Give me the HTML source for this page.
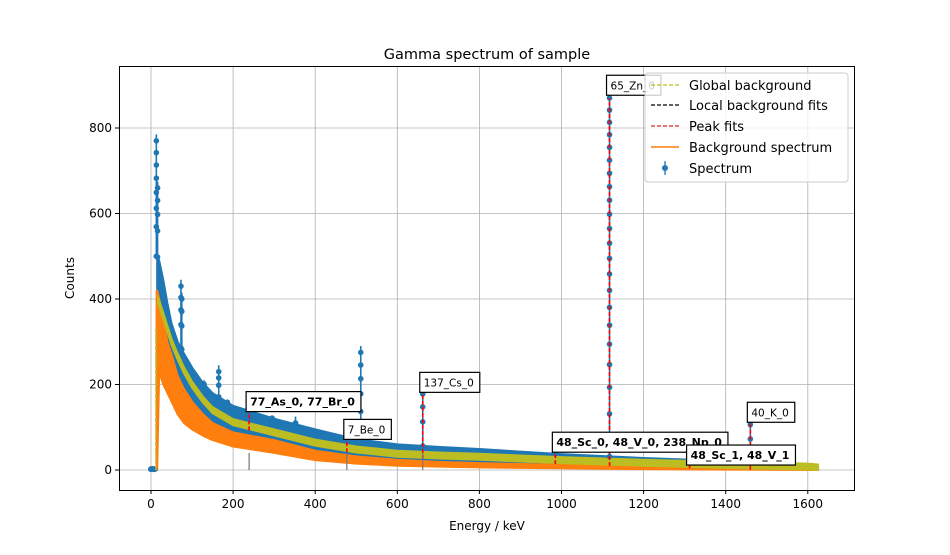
<!DOCTYPE html>
<html><head><meta charset="utf-8"><style>
body{margin:0;background:#fff;font-family:"Liberation Sans","DejaVu Sans",sans-serif;}
svg text{font-family:"DejaVu Sans","Liberation Sans",sans-serif;}
</style></head><body>
<svg id="chart" width="950" height="550" xmlns="http://www.w3.org/2000/svg">
<rect width="950" height="550" fill="#fff"/>
<g id="grid"></g>
<g id="marks"></g>
<rect x="119.5" y="66.5" width="735" height="424" fill="none" stroke="#000" stroke-width="1"/>
<g id="axes"></g>
<text x="487" y="59" font-size="14.5" text-anchor="middle">Gamma spectrum of sample</text>
<text x="487" y="530" font-size="12" text-anchor="middle">Energy / keV</text>
<text transform="translate(74,278) rotate(-90)" font-size="12" text-anchor="middle">Counts</text>
<g id="annots"></g>
<g>
<rect x="645" y="73" width="203" height="109" rx="3" fill="#fff" fill-opacity="0.8" stroke="#ccc"/>
<line x1="651" y1="85" x2="679" y2="85" stroke="#bcbd22" stroke-width="1.3" stroke-dasharray="4,2"/>
<text x="689" y="90" font-size="13">Global background</text>
<line x1="651" y1="105" x2="679" y2="105" stroke="#000" stroke-width="1.3" stroke-dasharray="4,2"/>
<text x="689" y="110" font-size="13">Local background fits</text>
<line x1="651" y1="126" x2="679" y2="126" stroke="#d62728" stroke-width="1.3" stroke-dasharray="4,2"/>
<text x="689" y="131" font-size="13">Peak fits</text>
<line x1="651" y1="147" x2="679" y2="147" stroke="#ff7f0e" stroke-width="1.6"/>
<text x="689" y="152" font-size="13">Background spectrum</text>
<line x1="665" y1="161" x2="665" y2="175" stroke="#1f77b4" stroke-width="1.3"/>
<circle cx="665" cy="168" r="3" fill="#1f77b4"/>
<text x="689" y="173" font-size="13">Spectrum</text>
</g>
</svg>
<script>
const bandE      = [15,20,30,40,50,65,80,100,127,150,200,300,400,500,600,700,800,900,1000,1200,1400,1600,1625];
const blueTop    = [500,490,444,390,343,300,273,240,203,180,150,120,95,72,60,54,49,43,37,28,21,13,8];
const blueBot    = [300,300,280,250,230,200,180,150,130,110,88,68,46,32,24,20,17,14,11,7,4,1,0];
const orangeTop  = [420,400,350,300,270,220,190,160,130,110,88,70,45,32,24,19,16,14,12,8,5,3,2];
const orangeBot  = [0,230,200,180,160,130,110,95,80,70,55,40,23,15,10,8,6,5,4,2,1,0,0];
const yellowMid  = [400,390,360,330,300,265,234,200,164,140,112,88,64,48,38,34,31,27,23,17,12,8,6];
const peakE      = [13,16,73,75,129,165,186,239,295,352,477,511,662,985,1117,1312,1460];
const peakH      = [770,660,430,400,195,230,150,160,110,110,95,275,205,65,870,35,135];
const fitE       = [239,477,662,985,1117,1312,1460];
const fitH       = [150,80,200,62,870,32,135];
const xTicks     = [0,200,400,600,800,1000,1200,1400,1600];
const yTicks     = [0,200,400,600,800];
const annText    = ["77_As_0, 77_Br_0","7_Be_0","137_Cs_0","65_Zn_0","48_Sc_0, 48_V_0, 238_Np_0","48_Sc_1, 48_V_1","40_K_0"];
const annE       = [239,477,662,1117,985,1312,1460];
const annC       = [160,95,205,900,65,35,135];
const annBold    = [1,0,0,0,1,1,0];

const X = e => 151 + e*0.4105;
const Y = c => 470 - c*0.4275;
const NS='http://www.w3.org/2000/svg';
function mk(tag, parent, attrs){const el=document.createElementNS(NS,tag);for(const k in attrs)el.setAttribute(k,attrs[k]);parent.appendChild(el);return el;}
function interp(arr,e){
  if(e<=bandE[0])return arr[0];
  for(let i=1;i<bandE.length;i++){if(e<=bandE[i]){const t=(e-bandE[i-1])/(bandE[i]-bandE[i-1]);return arr[i-1]+t*(arr[i]-arr[i-1]);}}
  return arr[arr.length-1];
}
const grid=document.getElementById('grid'), axes=document.getElementById('axes'), marks=document.getElementById('marks'), ann=document.getElementById('annots');

xTicks.forEach(t=>{
  const g=mk('line',grid,{x1:X(t),x2:X(t),y1:66,y2:490,stroke:'#b0b0b0','stroke-width':0.8});
  
  
  mk('line',axes,{x1:X(t),x2:X(t),y1:490,y2:494,stroke:'#000'});
  const tx=mk('text',axes,{x:X(t),y:508,'font-size':12,'text-anchor':'middle'});
  tx.textContent=t;
  
  
});
yTicks.forEach(t=>{
  const g=mk('line',grid,{x1:119,x2:855,y1:Y(t),y2:Y(t),stroke:'#b0b0b0','stroke-width':0.8});
  
  
  mk('line',axes,{x1:115,x2:119,y1:Y(t),y2:Y(t),stroke:'#000'});
  const tx=mk('text',axes,{x:112,y:Y(t)+4,'font-size':12,'text-anchor':'end'});
  tx.textContent=t;
  
  
});

function band(top,bot,color,name){
  let d='M'+bandE.map((e,i)=>X(e)+','+Y(top[i])).join('L');
  d+='L'+bandE.slice().reverse().map((e,j)=>{const i=bandE.length-1-j;return X(e)+','+Y(bot[i]);}).join('L')+'Z';
  const p=mk('path',marks,{d:d,fill:color,stroke:color,'stroke-width':2,'stroke-linejoin':'round'});
  
  
}
band(blueTop,blueBot,'#1f77b4','spectrum-band');
band(orangeTop,orangeBot,'#ff7f0e','background-spectrum');
const yTopArr=yellowMid.map(v=>v+7), yBotArr=yellowMid.map(v=>Math.max(0,v-7));
band(yTopArr,yBotArr,'#bcbd22','global-background');
[0,3,6,9].forEach(e=>{const c=mk('circle',marks,{cx:X(e),cy:Y(2),r:3,fill:'#1f77b4'});});
mk('line',marks,{x1:X(13),x2:X(13),y1:Y(0),y2:Y(420),stroke:'#ff7f0e','stroke-width':1.5});
mk('line',marks,{x1:X(12),x2:X(12),y1:Y(0),y2:Y(330),stroke:'#bcbd22','stroke-width':1.5,'stroke-dasharray':'4,2'});

peakE.forEach((e,i)=>{
  const h=peakH[i], base=interp(blueTop,e);
  const l=mk('line',marks,{x1:X(e),x2:X(e),y1:Y(base),y2:Y(h+15),stroke:'#1f77b4','stroke-width':1.6});
  
  
  const n=Math.max(3,Math.round((h-base)/40));
  for(let k=0;k<=n;k++){
    const c=mk('circle',marks,{cx:X(e),cy:Y(base+(h-base)*Math.pow(k/n,0.7)),r:2.8,fill:'#1f77b4'});
    
    
  }
});
fitE.forEach((e,i)=>{
  const l=mk('line',marks,{x1:X(e),x2:X(e),y1:Y(interp(yellowMid,e)-10),y2:Y(fitH[i]),stroke:'#ff0000','stroke-width':1.6,'stroke-dasharray':'4,2'});
  
  
});
[239,477,662].forEach(e=>{const l=mk('line',marks,{x1:X(e),x2:X(e),y1:Y(0),y2:Y(40),stroke:'#777','stroke-width':1.2});});

annText.forEach((t,i)=>{
  const g=mk('g',ann,{});
  
  
  const x=X(annE[i])-3, y=Y(annC[i]);
  const tx=mk('text',g,{x:x+4,y:y+4,'font-size':annBold[i]?11:10.5,'font-weight':annBold[i]?'bold':'normal'});
  tx.textContent=t;
  const w=tx.getComputedTextLength();
  const r=mk('rect',g,{x:x,y:y-10,width:w+10,height:20,fill:'#fff',stroke:'#000','stroke-width':1.2});
  g.insertBefore(r,tx);
});
</script>
</body></html>
